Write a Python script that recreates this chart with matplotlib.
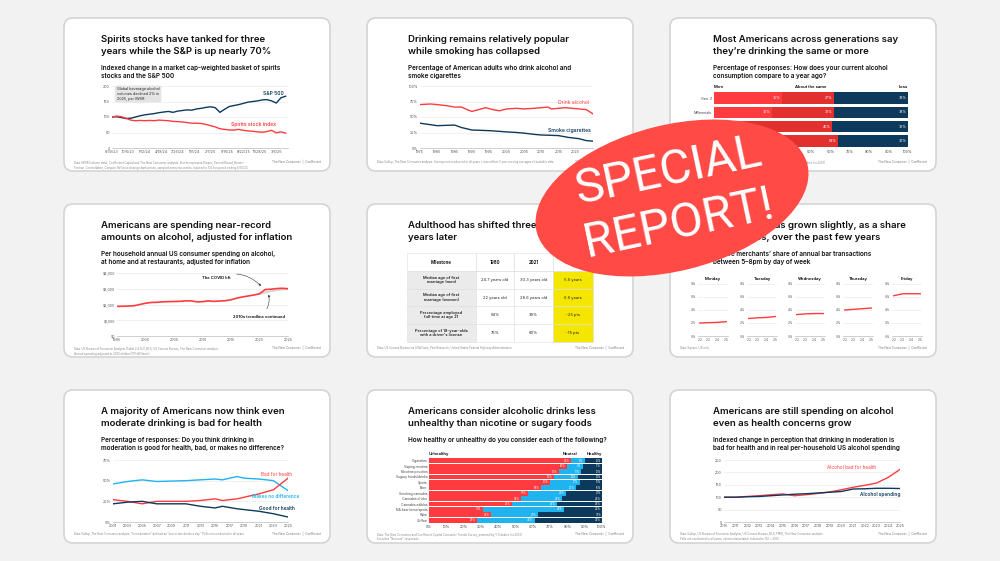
import matplotlib
matplotlib.use('Agg')
import matplotlib.pyplot as plt
from matplotlib.patches import FancyBboxPatch, Ellipse, Rectangle

W, H = 1000, 561
RED = '#ff3b3f'
DRED = '#e2302f'
NAVY = '#0d3a5c'
SKY = '#1fb3f0'
TXT = '#111111'

plt.rcParams['font.family'] = ['Inter', 'DejaVu Sans']

# ---------------- data ----------------
# 1: spirits vs S&P (biweekly index steps from 6/30/23)
sp_steps = list(range(0, 76, 2))
sp500 = [100, 101, 98, 95, 96, 100, 104, 107, 109, 111, 114, 116, 118, 115, 119, 121, 123, 122, 126,
         128, 131, 133, 130, 115, 125, 134, 137, 140, 144, 148, 150, 152, 155, 156, 152, 145, 162, 167]
spirits = [100, 103, 101, 96, 90, 88, 89, 88, 89, 88, 90, 89, 88, 86, 85, 84, 82, 80, 80,
           79, 76, 72, 68, 62, 60, 58, 58, 60, 57, 55, 54, 52, 51, 53, 57, 49, 52, 48]
sp_ticks = ['6/30/23', '10/6/23', '1/12/24', '4/19/24', '7/26/24', '11/1/24', '2/7/25',
            '5/16/25', '8/22/25', '11/28/25', '3/6/26']

# 2: drinking vs smoking
alc_years = [1975, 1978, 1980, 1983, 1985, 1987, 1989, 1990, 1992, 1994, 1996, 1998, 2000, 2003,
             2005, 2008, 2010, 2012, 2013, 2015, 2017, 2019, 2021, 2023, 2025]
alc_vals = [70, 71, 70, 68, 66, 66, 61, 59, 62, 65, 62, 60, 63, 64, 63, 64, 65, 66, 63, 64, 65, 64,
            63, 62, 55]
smk_years = [1975, 1980, 1985, 1987, 1990, 1995, 2000, 2003, 2005, 2008, 2010, 2015, 2018, 2021,
             2023, 2025]
smk_vals = [40, 36, 37, 33, 29, 28, 26, 25, 24, 22, 21, 20, 17, 15, 12, 11]

# 3: generations
gens = ['Gen. Z', 'Millennials', 'Gen. X', 'Boomers']
gen_more = [35, 30, 16, 10]
gen_same = [27, 32, 45, 54]
gen_less = [38, 38, 39, 36]

# 4: spending
spend_years = list(range(1995, 2026))
spend_vals = [1880, 1890, 1900, 1920, 2000, 2080, 2130, 2140, 2170, 2180, 2190, 2200, 2230, 2230,
              2170, 2180, 2230, 2200, 2220, 2240, 2300, 2400, 2480, 2540, 2600, 2680, 2950, 2970,
              3010, 3030, 3000]
trend_years = [2020, 2021, 2022, 2023, 2024, 2025]
trend_vals = [2680, 2760, 2840, 2900, 2950, 2980]

# 5: table
tbl_head = ['Milestone', '1980', '2021', 'Change']
tbl_rows = [
    ['Median age of first\nmarriage (men)', '24.7 years old', '30.3 years old', '5.6 years'],
    ['Median age of first\nmarriage (women)', '22 years old', '28.6 years old', '6.6 years'],
    ['Percentage employed\nfull-time at age 21', '64%', '39%', '-25 pts'],
    ["Percentage of 18-year-olds\nwith a driver's license", '75%', '60%', '-15 pts'],
]

# 6: happy hour share
days = ['Monday', 'Tuesday', 'Wednesday', 'Thursday', 'Friday']
hh_years = [2022, 2023, 2024, 2025]
hh_vals = [[2.0, 2.05, 2.1, 2.2], [2.7, 2.8, 2.85, 3.0], [3.3, 3.4, 3.45, 3.45],
           [4.0, 4.1, 4.2, 4.3], [6.2, 6.5, 6.5, 6.5]]

# 7: good / bad for health
g_years = [2001, 2003, 2005, 2007, 2009, 2011, 2013, 2015, 2016, 2018, 2019, 2021, 2023, 2025]
g_bad = [27, 25, 22, 25, 25, 25, 26, 28, 26, 28, 30, 34, 39, 53]
g_none = [46, 49, 51, 49, 49.5, 50, 51, 52, 51, 55, 53, 52, 50, 38]
g_good = [22, 24, 25, 22, 22, 22, 19, 17, 19, 16, 15, 13, 10, 6]

# 8: healthiness
items = ['Cigarettes', 'Vaping nicotine', 'Nicotine pouches', 'Sugary foods/drinks', 'Spirits', 'Beer',
         'Smoking cannabis', 'Cannabis drinks', 'Cannabis edibles', 'NA beer/wine/spirits', 'Wine',
         'Coffee']
unhealthy = [82, 80, 75, 72, 70, 65, 57, 53, 48, 31, 36, 28]
neutral = [8, 9, 13, 14, 17, 20, 22, 24, 26, 47, 27, 33]
healthy = [10, 11, 12, 14, 13, 15, 21, 23, 26, 22, 37, 39]

# 9: indexed
i_years = list(range(2010, 2026))
i_bad = [100, 100, 103, 106, 110, 113, 106, 110, 115, 121, 130, 140, 148, 157, 180, 212]
i_spend = [100, 100, 102, 103, 106, 109, 112, 114, 117, 120, 123, 133, 134, 136, 136, 135]

# ---------------- layout helpers ----------------
fig = plt.figure(figsize=(10, 5.61), dpi=100, facecolor='#f2f2f2')
bg = fig.add_axes([0, 0, 1, 1])
bg.set_xlim(0, W)
bg.set_ylim(H, 0)
bg.axis('off')


def ax_px(x0, y0, x1, y1):
    a = fig.add_axes([x0 / W, 1 - y1 / H, (x1 - x0) / W, (y1 - y0) / H])
    a.set_facecolor('none')
    return a


def base(ax, ylim, yticks, ylabels):
    ax.set_ylim(*ylim)
    ax.set_yticks(yticks)
    ax.set_yticklabels(ylabels)
    for s in ['top', 'right', 'left']:
        ax.spines[s].set_visible(False)
    ax.spines['bottom'].set_color('#bbbbbb')
    ax.spines['bottom'].set_linewidth(0.5)
    ax.tick_params(length=0, labelsize=2.6, colors='#555555', pad=1.5)
    ax.grid(axis='y', color='#e6e6e6', lw=0.4)
    ax.set_axisbelow(True)


col_x = [64, 367, 670]
row_y = [18, 204, 390]
CW, CH = 266, 153
for ry in row_y:
    for cx in col_x:
        bg.add_patch(FancyBboxPatch((cx, ry), CW, CH, boxstyle='round,pad=0,rounding_size=9',
                                    fc='white', ec='#d4d4d4', lw=1.2))

titles = [
    "Spirits stocks have tanked for three\nyears while the S&P is up nearly 70%",
    "Drinking remains relatively popular\nwhile smoking has collapsed",
    "Most Americans across generations say\nthey\u2019re drinking the same or more",
    "Americans are spending near-record\namounts on alcohol, adjusted for inflation",
    "Adulthood has shifted three to six\nyears later",
    "Happy hour has grown slightly, as a share\nof bar sales, over the past few years",
    "A majority of Americans now think even\nmoderate drinking is bad for health",
    "Americans consider alcoholic drinks less\nunhealthy than nicotine or sugary foods",
    "Americans are still spending on alcohol\neven as health concerns grow",
]
subtitles = [
    "Indexed change in a market cap-weighted basket of spirits\nstocks and the S&P 500",
    "Percentage of American adults who drink alcohol and\nsmoke cigarettes",
    "Percentage of responses: How does your current alcohol\nconsumption compare to a year ago?",
    "Per household annual US consumer spending on alcohol,\nat home and at restaurants, adjusted for inflation",
    "",
    "Square merchants\u2019 share of annual bar transactions\nbetween 5\u20138pm by day of week",
    "Percentage of responses: Do you think drinking in\nmoderation is good for health, bad, or makes no difference?",
    "How healthy or unhealthy do you consider each of the following?",
    "Indexed change in perception that drinking in moderation is\nbad for health and in real per-household US alcohol spending",
]
notes = [
    "Data: IWSR (volume data), Coefficient Capital and The New Consumer analysis. Stocks represent Diageo, Pernod Ricard, Brown-\n"
    "Forman, Constellation, Campari. Reflects closing share prices, sampled every two weeks. Indexed to 100 for period ending 6/30/23.",
    "Data: Gallup, The New Consumer analysis. Surveys not conducted in all years. Lines reflect 3-year moving averages of available data.",
    "Data: The New Consumer and Coefficient Capital Consumer Trends Survey, powered by Y Sidekick (n=2000)\nExcludes \"Not sure\" responses.",
    "Data: US Bureau of Economic Analysis (Table 2.4.5U), BLS, US Census Bureau, The New Consumer analysis.\n"
    "Annual spending adjusted to 2025 dollars (CPI-All Items).",
    "Data: US Census Bureau via USA Facts, Pew Research, United States Federal Highway Administration.",
    "Data: Square. US only.",
    "Data: Gallup, The New Consumer analysis. \"In moderation\" defined as \"one or two drinks a day.\" Polls not conducted in all years.",
    "Data: The New Consumer and Coefficient Capital Consumer Trends Survey, powered by Y Sidekick (n=2000)\nExcludes \"Not sure\" responses.",
    "Data: Gallup, US Bureau of Economic Analysis, US Census Bureau, BLS, FRED, The New Consumer analysis.\n"
    "Polls not conducted in all years, values interpolated. Indexed to 100 = 2010.",
]
title_x = [101, 408, 713]
for i in range(9):
    r, c = divmod(i, 3)
    top = row_y[r]
    l1, l2 = titles[i].split('\n')
    bg.text(title_x[c], top + 21, l1, fontsize=6.9, weight='semibold', color=TXT, va='center')
    bg.text(title_x[c], top + 33, l2, fontsize=6.9, weight='semibold', color=TXT, va='center')
    if subtitles[i]:
        for k, line in enumerate(subtitles[i].split('\n')):
            bg.text(title_x[c], top + 50 + k * 8.3, line, fontsize=4.6, weight='semibold',
                    color=TXT, va='center')
    bg.text(col_x[c] + 10, top + CH - 11, notes[i], fontsize=2.0, color='#888888', va='top',
            linespacing=1.3)
    bg.text(col_x[c] + CW - 9, top + CH - 9, "The New Consumer  |  Coefficient", fontsize=2.2,
            color='#777777', va='center', ha='right')

# ---------------- panel 1 ----------------
ax = ax_px(112, 86, 288, 148)
ax.plot(sp_steps, sp500, color=NAVY, lw=1.0)
ax.plot(sp_steps, spirits, color=RED, lw=1.0)
ax.set_xlim(0, 75)
ax.set_xticks(range(0, 71, 7))
ax.set_xticklabels(sp_ticks)
base(ax, (0, 200), [0, 50, 100, 150, 200], ['0', '50', '100', '150', '200'])
ax.text(2, 196, "Global beverage alcohol\nvolumes declined 2% in\n2025, per IWSR", fontsize=2.7,
        va='top', color='#222222', linespacing=1.2, zorder=5,
        bbox=dict(boxstyle='round,pad=0.5', fc='#e4e4e4', ec='none'))
ax.text(73, 176, "S&P 500", color=NAVY, fontsize=3.6, weight='semibold', ha='right', va='center')
ax.text(70, 75, "Spirits stock index", color=RED, fontsize=3.6, weight='semibold', ha='right',
        va='center')

# ---------------- panel 2 ----------------
ax = ax_px(420, 86, 593, 148)
ax.plot(alc_years, alc_vals, color=RED, lw=1.0)
ax.plot(smk_years, smk_vals, color=NAVY, lw=1.0)
ax.set_xlim(1975, 2025)
ax.set_xticks(range(1975, 2021, 5))
base(ax, (0, 100), [0, 25, 50, 75, 100], ['0%', '25%', '50%', '75%', '100%'])
ax.text(2024, 73, "Drink alcohol", color=RED, fontsize=3.6, ha='right', va='center')
ax.text(2024.5, 28, "Smoke cigarettes", color=NAVY, fontsize=3.6, weight='semibold', ha='right',
        va='center')

# ---------------- panel 3 ----------------
ax = ax_px(714, 91, 908, 148)
ys = range(len(gens))
left_same = gen_more
left_less = [a + b for a, b in zip(gen_more, gen_same)]
ax.barh(ys, gen_more, color=RED, height=0.82)
ax.barh(ys, gen_same, left=left_same, color=DRED, height=0.82)
ax.barh(ys, gen_less, left=left_less, color=NAVY, height=0.82)
for y in ys:
    ax.text(gen_more[y] - 1, y, f"{gen_more[y]}%", color='white', fontsize=2.5, ha='right', va='center')
    ax.text(left_less[y] - 1, y, f"{gen_same[y]}%", color='white', fontsize=2.5, ha='right', va='center')
    ax.text(99, y, f"{gen_less[y]}%", color='white', fontsize=2.5, ha='right', va='center')
ax.set_xlim(0, 100)
ax.set_ylim(3.5, -0.5)
ax.set_yticks(list(ys))
ax.set_yticklabels(gens)
ax.set_xticks(range(0, 101, 10))
ax.set_xticklabels([f"{v}%" for v in range(0, 101, 10)])
for s in ax.spines.values():
    s.set_visible(False)
ax.tick_params(length=0, labelsize=2.6, colors='#444444', pad=1.5)
ax.text(0, -0.62, "More", fontsize=3.0, weight='semibold', va='bottom', ha='left')
ax.text(50, -0.62, "About the same", fontsize=3.0, weight='semibold', va='bottom', ha='center')
ax.text(100, -0.62, "Less", fontsize=3.0, weight='semibold', va='bottom', ha='right')

# ---------------- panel 4 ----------------
ax = ax_px(117, 273, 288, 336)
ax.plot(trend_years, trend_vals, color='#d6d6d6', lw=1.4)
ax.plot(spend_years, spend_vals, color=RED, lw=1.2)
ax.set_xlim(1995, 2025)
ax.set_xticks(range(1995, 2026, 5))
base(ax, (0, 4000), [0, 1000, 2000, 3000, 4000], ['$0', '$1,000', '$2,000', '$3,000', '$4,000'])
ax.annotate("The COVID lift", xy=(2020.6, 3050), xytext=(2015, 3700), fontsize=3.0,
            weight='semibold', ha='right', va='center',
            arrowprops=dict(arrowstyle='-|>', color='#333333', lw=0.4, mutation_scale=3,
                            connectionstyle='arc3,rad=-0.35'))
ax.annotate("2010s trendline continued", xy=(2021.5, 2800), xytext=(2024.5, 1200), fontsize=3.0,
            weight='semibold', ha='right', va='center',
            arrowprops=dict(arrowstyle='-|>', color='#333333', lw=0.4, mutation_scale=3,
                            connectionstyle='arc3,rad=0.35', shrinkA=3))

# ---------------- panel 5: table ----------------
xe = [407, 476, 514, 553, 593]
ye = [253, 271, 289, 306, 324, 342]
for j, h in enumerate(tbl_head):
    bg.text((xe[j] + xe[j + 1]) / 2, (ye[0] + ye[1]) / 2, h, fontsize=3.2, weight='semibold',
            ha='center', va='center')
for i, row in enumerate(tbl_rows):
    for j, cell in enumerate(row):
        fc = '#ebebeb' if j == 0 else ('#f4e600' if j == 3 else 'white')
        bg.add_patch(Rectangle((xe[j], ye[i + 1]), xe[j + 1] - xe[j], ye[i + 2] - ye[i + 1],
                               fc=fc, ec='#e0e0e0', lw=0.4))
        bg.text((xe[j] + xe[j + 1]) / 2, (ye[i + 1] + ye[i + 2]) / 2, cell, fontsize=2.9,
                weight='semibold' if j == 0 else 'normal', ha='center', va='center',
                linespacing=1.15, color='#222222')
for j in range(4):
    bg.add_patch(Rectangle((xe[j], ye[0]), xe[j + 1] - xe[j], ye[1] - ye[0], fc='none',
                           ec='#e0e0e0', lw=0.4))

# ---------------- panel 6 ----------------
px0 = [698, 747, 795, 843, 892]
for k, d in enumerate(days):
    ax = ax_px(px0[k], 284, px0[k] + 30, 336)
    ax.plot(hh_years, hh_vals[k], color=RED, lw=1.0)
    ax.set_xlim(2021.8, 2025.2)
    ax.set_xticks(hh_years)
    ax.set_xticklabels(["'22", "'23", "'24", "'25"])
    base(ax, (0, 8), [0, 2, 4, 6, 8], ['0%', '2%', '4%', '6%', '8%'])
    ax.tick_params(labelsize=2.3)
    ax.set_title(d, fontsize=3.0, weight='semibold', pad=3)

# ---------------- panel 7 ----------------
ax = ax_px(113, 460, 288, 522)
ax.plot(g_years, g_none, color=SKY, lw=1.0)
ax.plot(g_years, g_bad, color=RED, lw=1.0)
ax.plot(g_years, g_good, color=NAVY, lw=1.0)
ax.set_xlim(2001, 2025)
ax.set_xticks(range(2001, 2026, 2))
base(ax, (0, 75), [0, 25, 50, 75], ['0%', '25%', '50%', '75%'])
ax.text(2025.6, 58, "Bad for health", color=RED, fontsize=3.4, ha='right', va='center')
ax.text(2026.6, 31, "Makes no difference", color=SKY, fontsize=3.4, weight='semibold', ha='right',
        va='center')
ax.text(2026, 16, "Good for health", color=NAVY, fontsize=3.4, weight='semibold', ha='right',
        va='center')
for t in ax.texts:
    t.set_clip_on(False)

# ---------------- panel 8 ----------------
ax = ax_px(429, 458, 602, 523)
ys = range(len(items))
l2 = unhealthy
l3 = [a + b for a, b in zip(unhealthy, neutral)]
ax.barh(ys, unhealthy, color=RED, height=0.9)
ax.barh(ys, neutral, left=l2, color=SKY, height=0.9)
ax.barh(ys, healthy, left=l3, color=NAVY, height=0.9)
for y in ys:
    ax.text(unhealthy[y] - 0.8, y, f"{unhealthy[y]}%", color='white', fontsize=1.9, ha='right', va='center')
    ax.text(l3[y] - 0.8, y, f"{neutral[y]}%", color='white', fontsize=1.9, ha='right', va='center')
    ax.text(99.5, y, f"{healthy[y]}%", color='white', fontsize=1.9, ha='right', va='center')
ax.set_xlim(0, 100)
ax.set_ylim(11.5, -0.5)
ax.set_yticks(list(ys))
ax.set_yticklabels(items)
ax.set_xticks(range(0, 101, 10))
ax.set_xticklabels([f"{v}%" for v in range(0, 101, 10)])
for s in ax.spines.values():
    s.set_visible(False)
ax.tick_params(length=0, labelsize=2.4, colors='#444444', pad=1.2)
ax.tick_params(axis='x', labelsize=2.6)
ax.text(0, -0.8, "Unhealthy", fontsize=3.0, weight='semibold', va='bottom', ha='left')
ax.text(86, -0.8, "Neutral", fontsize=3.0, weight='semibold', va='bottom', ha='right')
ax.text(100, -0.8, "Healthy", fontsize=3.0, weight='semibold', va='bottom', ha='right')

# ---------------- panel 9 ----------------
ax = ax_px(724, 460, 900, 522)
ax.plot(i_years, i_bad, color=RED, lw=1.0)
ax.plot(i_years, i_spend, color=NAVY, lw=1.0)
ax.set_xlim(2010, 2025)
ax.set_xticks(i_years)
base(ax, (0, 250), [0, 50, 100, 150, 200, 250], ['0', '50', '100', '150', '200', '250'])
ax.text(2023, 218, "Alcohol bad for health", color=RED, fontsize=3.4, ha='right', va='center')
ax.text(2025, 112, "Alcohol spending", color=NAVY, fontsize=3.4, weight='semibold', ha='right',
        va='center')

# ---------------- stamp ----------------
st = fig.add_axes([0, 0, 1, 1])
st.set_zorder(30)
st.set_xlim(0, W)
st.set_ylim(H, 0)
st.axis('off')
st.add_patch(Ellipse((672, 198), 279, 146, angle=-14, fc='#ff4a45', ec='none'))
st.text(668, 172, "SPECIAL", fontsize=35, color='white', ha='center', va='center', rotation=12,
        family=['Roboto', 'DejaVu Sans'])
st.text(679, 224, "REPORT!", fontsize=35, color='white', ha='center', va='center', rotation=12,
        family=['Roboto', 'DejaVu Sans'])

fig.savefig('out.png', dpi=100, facecolor=fig.get_facecolor())
